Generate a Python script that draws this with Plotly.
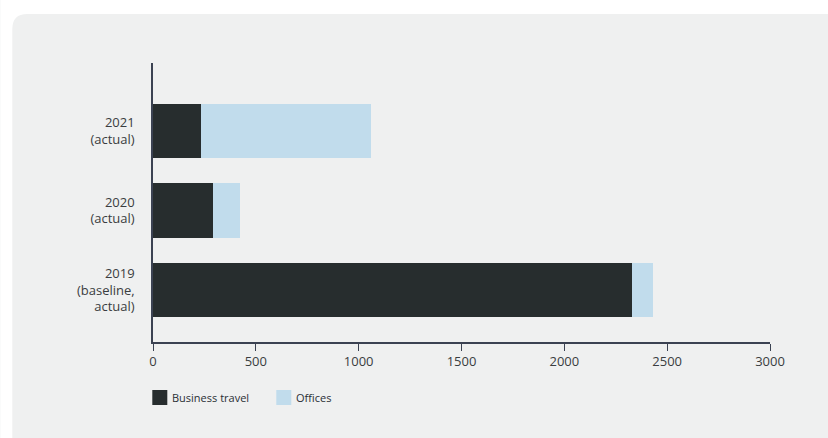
import plotly.graph_objects as go

categories = ["2019<br>(baseline,<br>actual)", "2020<br>(actual)", "2021<br>(actual)"]
business_travel = [2330, 293, 235]
offices = [102, 131, 826]
x_ticks = [0, 500, 1000, 1500, 2000, 2500, 3000]
series_names = ["Business travel", "Offices"]
series_colors = ["#272d2e", "#c1dcec"]

W, H = 828, 438
L, R, T, B = 152.7, 769.7, 63, 342
pw, ph = R - L, B - T

def px(x):
    return (x - L) / pw

def py(y):
    return (B - y) / ph

fig = go.Figure()
for name, vals, col in zip(series_names, [business_travel, offices], series_colors):
    fig.add_trace(go.Bar(y=categories, x=vals, orientation="h", name=name,
                         marker=dict(color=col, line=dict(width=0)), showlegend=False))

r = 15
x0, y0 = px(12), py(14)
rx, ry = r / pw, r / ph
shapes = []
annotations = []
legend_x = [152, 276]
for lx, name, col in zip(legend_x, series_names, series_colors):
    shapes.append(dict(type="rect", xref="paper", yref="paper",
                       x0=px(lx), x1=px(lx + 15), y0=py(405), y1=py(390),
                       fillcolor=col, line=dict(width=0)))
    annotations.append(dict(text=name, xref="paper", yref="paper", x=px(lx + 18), y=py(397.5),
                            xanchor="left", yanchor="middle", showarrow=False,
                            font=dict(size=11, color="#2a2f35")))

# white outside the rounded panel (top strip and left strip, with the corner)
outside = (f"M {px(0)},{py(0)} L {px(840)},{py(0)} L {px(840)},{y0} L {x0 + rx},{y0} "
           f"Q {x0},{y0} {x0},{y0 - ry} L {x0},{py(450)} L {px(0)},{py(450)} Z")
shapes.append(dict(type="path", path=outside, xref="paper", yref="paper", layer="below",
                   fillcolor="white", line=dict(width=0)))

fig.update_layout(
    width=W, height=H,
    margin=dict(l=L, r=W - R, t=T, b=H - B, pad=0),
    paper_bgcolor="#eff0f0", plot_bgcolor="rgba(0,0,0,0)",
    barmode="stack", bargap=0.32,
    font=dict(family="Open Sans, Noto Sans, sans-serif", size=13, color="#3a3d40"),
    shapes=shapes, annotations=annotations,
    showlegend=False,
    xaxis=dict(range=[0, 3000], tickvals=x_ticks, ticktext=[str(v) for v in x_ticks],
               showgrid=False, zeroline=False, showline=True, linecolor="#3b4252", linewidth=1.5,
               ticks="outside", ticklen=7, tickcolor="#3b4252", tickwidth=1,
               tickfont=dict(size=13, color="#3a3d40"), fixedrange=True),
    yaxis=dict(range=[-0.654, 2.855], showgrid=False, zeroline=False, showline=True,
               linecolor="#3b4252", linewidth=1.5, ticks="", ticklabelstandoff=14,
               tickfont=dict(size=13, color="#3a3d40"), fixedrange=True),
)

fig.write_html("out.html", config={"displayModeBar": False},
               post_script=("document.body.style.margin='0';document.body.style.overflow='hidden';"
                            "document.body.style.background='#eff0f0';"
                            "document.documentElement.style.background='#eff0f0';"))
